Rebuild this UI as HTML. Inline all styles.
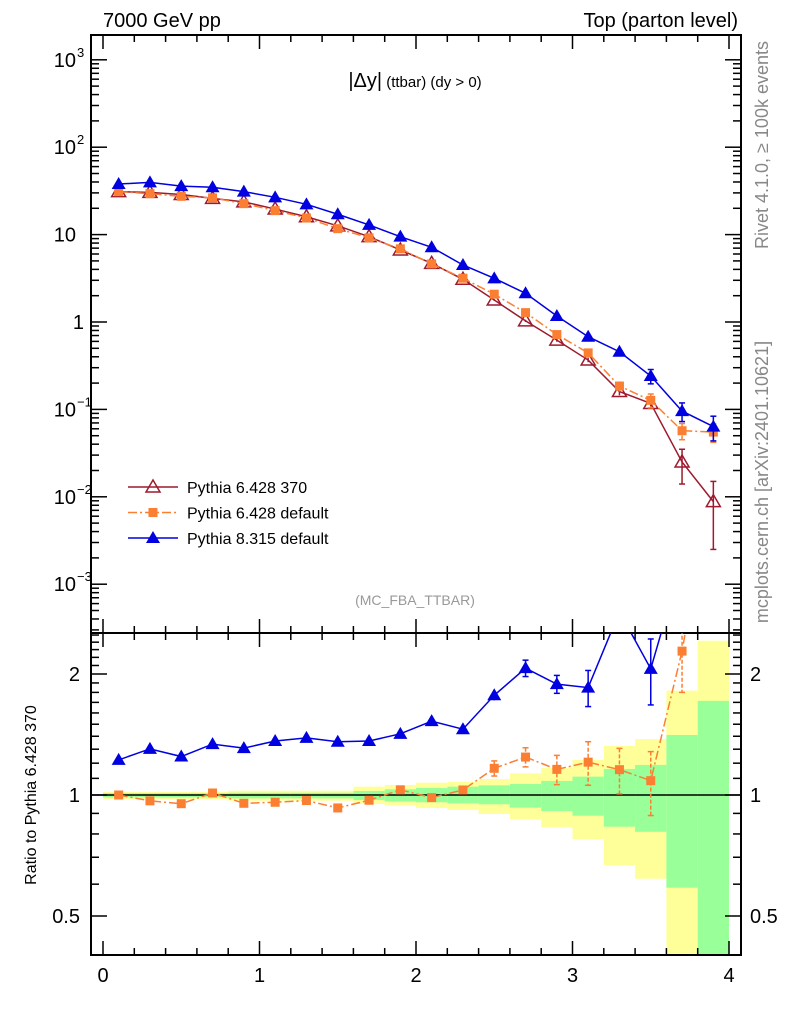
<!DOCTYPE html>
<html><head><meta charset="utf-8"><style>
html,body{margin:0;padding:0;background:#fff;}
svg{display:block;font-family:"Liberation Sans",sans-serif;}
</style></head><body>
<svg id="c" width="786" height="1024" viewBox="0 0 786 1024" xmlns="http://www.w3.org/2000/svg"></svg>
<script>
const binCenters=[0.1,0.3,0.5,0.7,0.9,1.1,1.3,1.5,1.7,1.9,2.1,2.3,2.5,2.7,2.9,3.1,3.3,3.5,3.7,3.9];
const refVals=[31,30.4,28.8,26,23.7,19.6,16.0,12.6,9.47,6.67,4.69,3.08,1.785,1.03,0.62,0.367,0.16,0.117,0.025,0.0088];
const refErrLo=[0.3,0.3,0.3,0.3,0.3,0.25,0.2,0.15,0.12,0.1,0.07,0.05,0.04,0.03,0.025,0.02,0.015,0.012,0.011,0.0063];
const refErrHi=[0.3,0.3,0.3,0.3,0.3,0.25,0.2,0.15,0.12,0.1,0.07,0.05,0.04,0.03,0.025,0.02,0.015,0.012,0.01,0.0062];
const p6defVals=[31,29.4,27.4,26.3,22.6,18.8,15.5,11.7,9.19,6.87,4.62,3.17,2.08,1.28,0.718,0.443,0.185,0.127,0.057,0.055];
const p6defErr=[0.4,0.4,0.4,0.4,0.35,0.3,0.25,0.2,0.15,0.12,0.1,0.08,0.09,0.07,0.06,0.055,0.024,0.023,0.012,0.013];
const p8Vals=[37.9,39.6,35.9,34.8,31.0,26.7,22.2,17.1,12.9,9.47,7.16,4.49,3.16,2.13,1.17,0.679,0.457,0.241,0.0956,0.0636];
const p8Err=[0.5,0.5,0.5,0.5,0.45,0.4,0.35,0.3,0.2,0.15,0.12,0.08,0.09,0.1,0.06,0.07,0.04,0.045,0.023,0.02];
const binEdges=[0,0.2,0.4,0.6,0.8,1.0,1.2,1.4,1.6,1.8,2.0,2.2,2.4,2.6,2.8,3.0,3.2,3.4,3.6,3.8,4.0];
const yellowUp=[1.019,1.019,1.019,1.019,1.025,1.025,1.025,1.025,1.049,1.059,1.073,1.079,1.096,1.132,1.169,1.222,1.324,1.378,1.818,2.42];
const yellowDn=[0.976,0.976,0.976,0.976,0.968,0.968,0.968,0.968,0.95,0.941,0.928,0.918,0.897,0.87,0.831,0.777,0.669,0.619,0.3,0.3];
const greenUp=[1.01,1.01,1.01,1.01,1.013,1.013,1.013,1.013,1.023,1.033,1.041,1.049,1.057,1.065,1.084,1.111,1.161,1.188,1.41,1.715];
const greenDn=[0.987,0.987,0.987,0.987,0.981,0.981,0.981,0.981,0.972,0.964,0.959,0.953,0.948,0.93,0.912,0.888,0.834,0.81,0.588,0.3];
const xTickLabels=["0","1","2","3","4"];
const mainTickExps=[-3,-2,-1,0,1,2,3];
const mainTickLabels=["10","10","10","1","10","10","10"];
const ratioTickVals=[0.5,1,2];
const ratioTickLabels=["0.5","1","2"];

const NS="http://www.w3.org/2000/svg";
const svg=document.getElementById('c');
const L=91,R=741,T=35,M=633,B=955;
const X0=103,XS=156.5;
function sx(v){return X0+XS*v;}
const MAIN_LOGMAX=(322-T)/87.4, MAIN_LOGMIN=(322-M)/87.4;
function sy(v){const l=Math.log10(v);return T+(MAIN_LOGMAX-l)/(MAIN_LOGMAX-MAIN_LOGMIN)*(M-T);}
const RMAX=(795-M)/121, RMIN=(795-B)/121;
function ry(v){const l=Math.log2(v);return M+(RMAX-l)/(RMAX-RMIN)*(B-M);}
function el(tag,attrs,parent){const e=document.createElementNS(NS,tag);for(const k in attrs)e.setAttribute(k,attrs[k]);(parent||svg).appendChild(e);return e;}
function clampR(y){return Math.max(M,Math.min(B,y));}

const defs=el('defs',{});
const cp1=el('clipPath',{id:'cm'},defs);el('rect',{x:L,y:T,width:R-L,height:M-T},cp1);
const cp2=el('clipPath',{id:'cr'},defs);el('rect',{x:L,y:M,width:R-L,height:B-M},cp2);

const bands=el('g',{'clip-path':'url(#cr)'});


for(let i=0;i<yellowUp.length;i++){
  const x1=sx(binEdges[i]),x2=sx(binEdges[i+1]);
  const y1=clampR(ry(yellowUp[i])),y2=clampR(ry(yellowDn[i]));
  const r1=el('rect',{x:x1,y:y1,width:x2-x1,height:y2-y1,fill:'#ffff99'},bands);
  
  
  const g1=clampR(ry(greenUp[i])),g2=clampR(ry(greenDn[i]));
  const r2=el('rect',{x:x1,y:g1,width:x2-x1,height:g2-g1,fill:'#99ff99'},bands);
  
  
}
el('line',{x1:L,x2:R,y1:ry(1),y2:ry(1),stroke:'#000','stroke-width':1.5});

const f1=el('rect',{x:L,y:T,width:R-L,height:M-T,fill:'none',stroke:'#000','stroke-width':2});

const f2=el('rect',{x:L,y:M,width:R-L,height:B-M,fill:'none',stroke:'#000','stroke-width':2});


const xt=el('g',{stroke:'#000','stroke-width':1.5});
for(let k=0;k<=20;k++){
  const v=k*0.2,x=sx(v),major=(k%5===0),len=major?14:7;
  [[T,1],[M,-1],[M,1],[B,-1]].forEach(([y0,d])=>{el('line',{x1:x,x2:x,y1:y0,y2:y0+d*len},xt);});
}
xTickLabels.forEach((t,i)=>{const e=el('text',{x:sx(i),y:982,'font-size':20,'text-anchor':'middle'});e.textContent=t;
});

const yt=el('g',{stroke:'#000','stroke-width':1.5});
for(let e=-4;e<=3;e++){
  for(let m=1;m<10;m++){
    const v=m*Math.pow(10,e);const y=sy(v);if(y<T||y>M)continue;
    const len=m===1?16:8;
    el('line',{x1:L,x2:L+len,y1:y,y2:y},yt);el('line',{x1:R,x2:R-len,y1:y,y2:y},yt);
  }
}
mainTickExps.forEach((ex,i)=>{
  const y=sy(Math.pow(10,ex));
  const t=el('text',{x:ex>=1||ex<0?76:84,y:y+7,'font-size':20,'text-anchor':'end'});
  t.textContent=mainTickLabels[i];
  
  if(ex!==0&&ex!==1){const s=el('text',{x:77,y:y-3,'font-size':13,'text-anchor':'start'});s.textContent=String(ex).replace('-','−');
  }
});
const rt=el('g',{stroke:'#000','stroke-width':1.5});
const rminor=[];for(let v=0.4;v<2.55;v+=0.1)rminor.push(Math.round(v*10)/10);
rminor.forEach(v=>{const y=ry(v);if(y<M||y>B)return;const maj=ratioTickVals.includes(v);const len=maj?16:8;
el('line',{x1:L,x2:L+len,y1:y,y2:y},rt);el('line',{x1:R,x2:R-len,y1:y,y2:y},rt);});
ratioTickVals.forEach((v,i)=>{const y=ry(v);
  const a=el('text',{x:80,y:y+7,'font-size':20,'text-anchor':'end'});a.textContent=ratioTickLabels[i];
  
  const b=el('text',{x:750,y:y+7,'font-size':20,'text-anchor':'start'});b.textContent=ratioTickLabels[i];
  });

const series=[
 {name:'pythia-6428-370',vals:refVals,lo:refErrLo,hi:refErrHi,color:'#9e1a2e',dash:'',marker:'otri'},
 {name:'pythia-6428-default',vals:p6defVals,lo:p6defErr,hi:p6defErr,color:'#fb7f33',dash:'9,3,2,3',marker:'sq'},
 {name:'pythia-8315-default',vals:p8Vals,lo:p8Err,hi:p8Err,color:'#0000e0',dash:'',marker:'tri'}
];
function marker(g,m,x,y,c){
  if(m==='sq')return el('rect',{x:x-4.5,y:y-4.5,width:9,height:9,fill:c},g);
  const pts=`${x},${y-7} ${x-7},${y+5} ${x+7},${y+5}`;
  if(m==='tri')return el('polygon',{points:pts,fill:c},g);
  return el('polygon',{points:pts,fill:'none',stroke:c,'stroke-width':1.5},g);
}
function ebar(g,x,y1,y2,c,dashed){
  el('line',{x1:x,x2:x,y1:y1,y2:y2,stroke:c,'stroke-width':1.5,'stroke-dasharray':dashed?'4,2':''},g);
  if(Math.abs(y2-y1)>10){el('line',{x1:x-3,x2:x+3,y1:y1,y2:y1,stroke:c,'stroke-width':1.5},g);el('line',{x1:x-3,x2:x+3,y1:y2,y2:y2,stroke:c,'stroke-width':1.5},g);}
}
series.forEach(s=>{
  const g=el('g',{'clip-path':'url(#cm)'});
  
  el('polyline',{points:s.vals.map((v,i)=>sx(binCenters[i])+','+sy(v)).join(' '),fill:'none',stroke:s.color,'stroke-width':1.5,'stroke-dasharray':s.dash},g);
  s.vals.forEach((v,i)=>{const x=sx(binCenters[i]);
    ebar(g,x,sy(v+s.hi[i]),sy(Math.max(v-s.lo[i],1e-6)),s.color,!!s.dash);
    const mk=marker(g,s.marker,x,sy(v),s.color);
    });
  if(s.name==='pythia-6428-370')return;
  const gr=el('g',{'clip-path':'url(#cr)'});
  
  const rv=s.vals.map((v,i)=>v/refVals[i]);
  el('polyline',{points:rv.map((v,i)=>sx(binCenters[i])+','+ry(v)).join(' '),fill:'none',stroke:s.color,'stroke-width':1.5,'stroke-dasharray':s.dash},gr);
  rv.forEach((v,i)=>{const x=sx(binCenters[i]);const e=s.hi[i]/refVals[i];
    ebar(gr,x,ry(v+e),ry(Math.max(v-e,0.05)),s.color,!!s.dash);
    const mk=marker(gr,s.marker,x,ry(v),s.color);
    });
});

const leg=el('g',{});

const labels=['Pythia 6.428 370','Pythia 6.428 default','Pythia 8.315 default'];
series.forEach((s,i)=>{const y=487+i*25.5;
  const g=el('g',{},leg);
  el('line',{x1:128,x2:178,y1:y,y2:y,stroke:s.color,'stroke-width':1.5,'stroke-dasharray':s.dash},g);
  marker(g,s.marker,153,y,s.color);
  const t=el('text',{x:187,y:y+6,'font-size':16},g);t.textContent=labels[i];});

function txt(x,y,size,content,name,extra){const t=el('text',Object.assign({x:x,y:y,'font-size':size},extra||{}));t.textContent=content;
return t;}
txt(103,27,20,'7000 GeV pp','energy-label');
txt(738,27,20,'Top (parton level)','process-label',{'text-anchor':'end'});
const tt=txt(415,87,20,'','plot-title',{'text-anchor':'middle'});
tt.innerHTML='|Δy|<tspan font-size="15"> (ttbar) (dy &gt; 0)</tspan>';
txt(415,605,14,'(MC_FBA_TTBAR)','analysis-id',{'text-anchor':'middle',fill:'#999'});
txt(0,0,18,'Rivet 4.1.0, ≥ 100k events','rivet-label',{'text-anchor':'middle',fill:'#888',transform:'translate(768,145) rotate(-90)'});
txt(0,0,18,'mcplots.cern.ch [arXiv:2401.10621]','mcplots-label',{'text-anchor':'middle',fill:'#888',transform:'translate(768,482) rotate(-90)'});
txt(0,0,16,'Ratio to Pythia 6.428 370','ratio-y-axis-title',{'text-anchor':'middle',transform:'translate(36,795) rotate(-90)'});
</script>
</body></html>
